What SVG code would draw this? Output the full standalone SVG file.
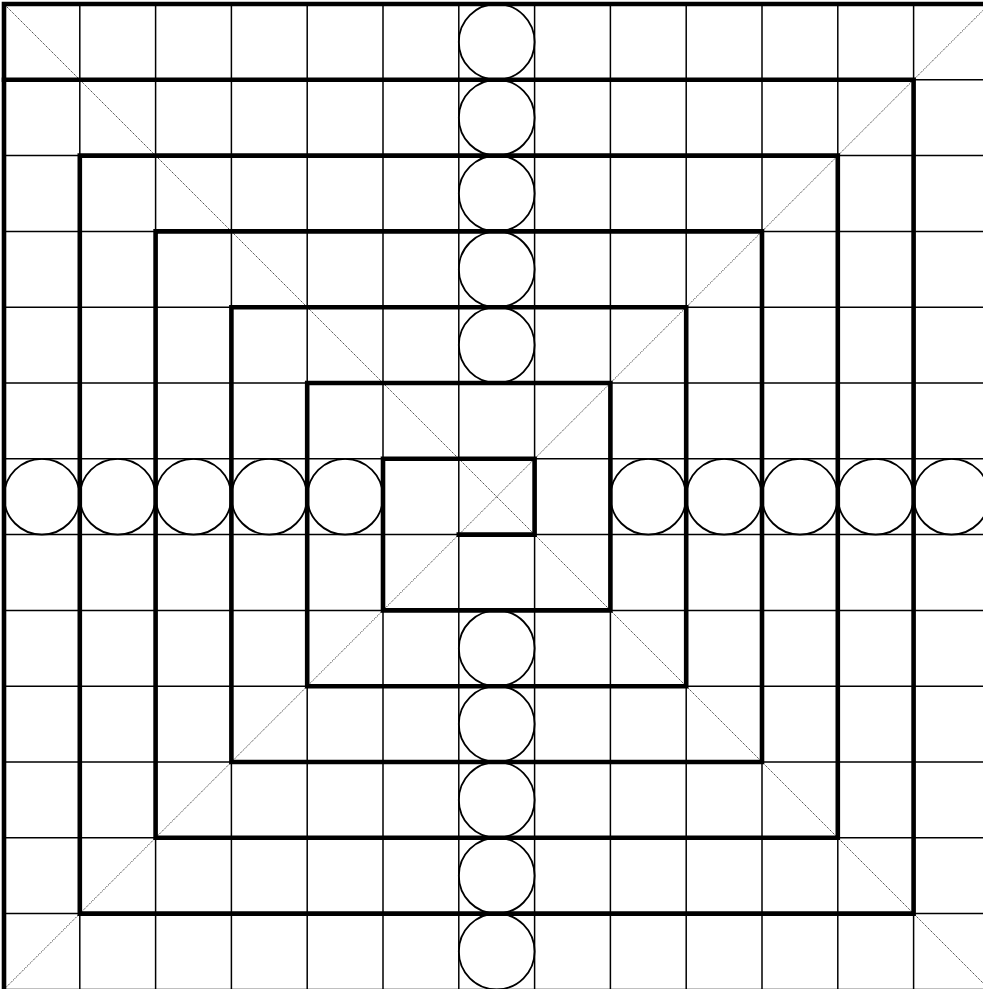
<svg xmlns="http://www.w3.org/2000/svg" width="983" height="989" viewBox="0 0 983 989">
<style>
.grid{stroke:#000;stroke-width:1.5;fill:none}
.diag{stroke:#000;stroke-width:0.8;fill:none;stroke-dasharray:1.2 1}
.thick{stroke:#000;stroke-width:4.6;fill:none;stroke-linecap:square;stroke-linejoin:miter}
.c{stroke:#000;stroke-width:1.8;fill:none}
</style>
<rect x="0" y="0" width="983" height="989" fill="#fff"/>
<g id="grid" class="grid">
<path d="M4,4V989.4M79.8,4V989.4M155.6,4V989.4M231.4,4V989.4M307.2,4V989.4M383,4V989.4M458.8,4V989.4M534.6,4V989.4M610.4,4V989.4M686.2,4V989.4M762,4V989.4M837.8,4V989.4M913.6,4V989.4M989.4,4V989.4"/>
<path d="M4,4H989.4M4,79.8H989.4M4,155.6H989.4M4,231.4H989.4M4,307.2H989.4M4,383H989.4M4,458.8H989.4M4,534.6H989.4M4,610.4H989.4M4,686.2H989.4M4,762H989.4M4,837.8H989.4M4,913.6H989.4M4,989.4H989.4"/>
</g>
<g id="diagonals" class="diag">
<line x1="4" y1="4" x2="989.4" y2="989.4"/>
<line x1="989.4" y1="4" x2="4" y2="989.4"/>
</g>
<g id="spiral" class="thick">
<path d="M992,4H4V992"/>
<path d="M4,79.8H913.6V913.6H79.8V155.6H837.8V837.8H155.6V231.4H762V762H231.4V307.2H686.2V686.2H307.2V383H610.4V610.4H383V458.8H534.6V534.6H458.8"/>
</g>
<g id="circles-top" class="c">
<g id="ct0"><circle cx="496.7" cy="41.9" r="37.9"/></g>
<g id="ct1"><circle cx="496.7" cy="117.7" r="37.9"/></g>
<g id="ct2"><circle cx="496.7" cy="193.5" r="37.9"/></g>
<g id="ct3"><circle cx="496.7" cy="269.3" r="37.9"/></g>
<g id="ct4"><circle cx="496.7" cy="345.1" r="37.9"/></g>
</g>
<g id="circles-bottom" class="c">
<g id="cb0"><circle cx="496.7" cy="648.3" r="37.9"/></g>
<g id="cb1"><circle cx="496.7" cy="724.1" r="37.9"/></g>
<g id="cb2"><circle cx="496.7" cy="799.9" r="37.9"/></g>
<g id="cb3"><circle cx="496.7" cy="875.7" r="37.9"/></g>
<g id="cb4"><circle cx="496.7" cy="951.5" r="37.9"/></g>
</g>
<g id="circles-left" class="c">
<g id="cl0"><circle cx="41.9" cy="496.7" r="37.9"/></g>
<g id="cl1"><circle cx="117.7" cy="496.7" r="37.9"/></g>
<g id="cl2"><circle cx="193.5" cy="496.7" r="37.9"/></g>
<g id="cl3"><circle cx="269.3" cy="496.7" r="37.9"/></g>
<g id="cl4"><circle cx="345.1" cy="496.7" r="37.9"/></g>
</g>
<g id="circles-right" class="c">
<g id="cr0"><circle cx="648.3" cy="496.7" r="37.9"/></g>
<g id="cr1"><circle cx="724.1" cy="496.7" r="37.9"/></g>
<g id="cr2"><circle cx="799.9" cy="496.7" r="37.9"/></g>
<g id="cr3"><circle cx="875.7" cy="496.7" r="37.9"/></g>
<g id="cr4"><circle cx="951.5" cy="496.7" r="37.9"/></g>
</g>
</svg>
